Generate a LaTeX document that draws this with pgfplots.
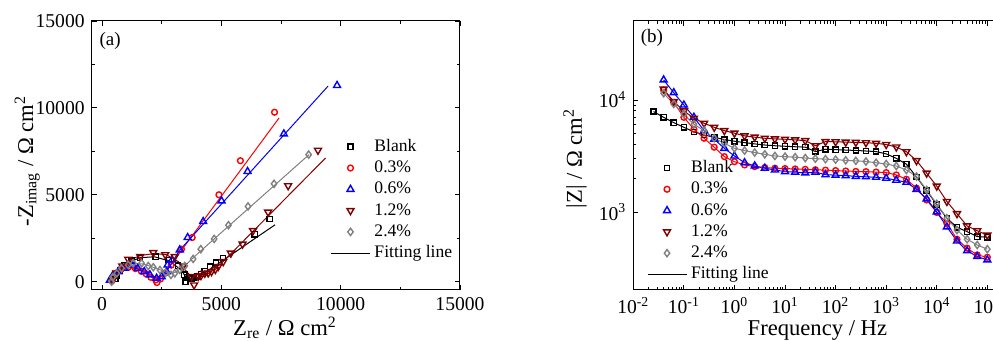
\documentclass[border=0pt]{standalone}
\usepackage{fontspec}
\setmainfont{Liberation Serif}
\usepackage{pgfplots}
\usepackage{pgfplotstable}
\pgfplotsset{compat=1.18}
\definecolor{dred}{RGB}{128,0,0}
\definecolor{mgray}{RGB}{128,128,128}

\pgfplotstableread{
f blank p3 p6 p12 p24
0.0251 7870 nan nan nan nan
0.0398 7000 12270 15100 12480 11480
0.0631 6270 9500 11610 9660 9210
0.1 5700 7000 9010 7980 7450
0.158 5180 5470 7010 6860 6070
0.251 4870 4550 5320 6190 5320
0.398 4640 3785 4460 5700 4550
0.631 4430 3120 3700 5320 4100
1 4280 2810 3160 5050 3700
1.585 4160 2630 2755 4780 3530
2.512 4050 2540 2575 4650 3390
3.981 3960 2490 2456 4550 3270
6.31 3900 2456 2371 4490 3160
10 3860 2440 2292 4460 3120
15.85 3820 2420 2270 4400 3080
25.12 3790 2400 2230 4330 3030
39.81 3460 2380 2270 3900 2990
63.1 3630 2360 2150 4250 2960
100 3600 2340 2130 4230 2930
158.5 3570 2320 2110 4200 2890
251.2 3540 2300 2080 4180 2860
398.1 3500 2290 2060 4150 2820
631 3460 2270 2040 4100 2750
1000 3300 2245 2000 4000 2680
1585 3010 2140 1920 3800 2570
2512 2670 1960 1840 3450 2370
3981 2050 1630 1590 2870 2070
6310 1550 1280 1310 2220 1570
10000 1160 990 1000 1700 1180
15849 880 790 735 1240 880
25119 730 570 550 965 690
39811 667 475 450 750 570
63096 602 413 400 680 507
100000 595 394 373 620 465
}\tabB

\pgfplotsset{
  mk/.style={only marks, mark options={line width=0.7pt, solid}},
  fit/.style={line width=0.5pt, no marks, forget plot},
  msq/.style={mark=square, mark size=1.3pt},
  mci/.style={mark=o, mark size=1.45pt},
  mtr/.style={mark=triangle, mark size=2pt},
  mtd/.style={mark=triangle, mark size=2pt, mark options={rotate=180, line width=0.7pt, solid}},
  mdi/.style={mark=diamond, mark size=1.8pt},
  base/.style={
    scale only axis, anchor=south west,
    scaled ticks=false,
    axis line style={line width=0.5pt},
    tick align=inside, major tick length=2.5pt, minor tick length=1.5pt,
    every tick/.style={black, line width=0.4pt},
    tick label style={font=\fontsize{9.8}{10}\selectfont},
    label style={font=\fontsize{11.3}{12}\selectfont},
    legend cell align=left,
    legend style={draw=none, fill=none, font=\fontsize{8.8}{9}\selectfont,
      row sep=0.15pt, nodes={text height=6.5pt, text depth=2pt, inner ysep=1pt, inner xsep=2pt}},
  },
}

\begin{document}
\begin{tikzpicture}
\path[use as bounding box] (0,0) rectangle (496.5pt,170.5pt);
\clip (0,0) rectangle (496.5pt,170.5pt);

% ---------- panel (a) ----------
\begin{axis}[base,
  at={(45.85pt,25.5pt)}, width=184.15pt, height=134.5pt,
  xmin=-430, xmax=15000, ymin=-480, ymax=15000,
  xtick={0,5000,10000,15000}, xticklabels={0,5000,10000,15000},
  ytick={0,5000,10000,15000}, yticklabels={0,5000,10000,15000},
  minor x tick num=1, minor y tick num=1,
  xlabel={Z\textsubscript{re} / Ω cm\textsuperscript{2}},
  ylabel={-Z\textsubscript{imag} / Ω cm\textsuperscript{2}},
  xlabel style={at={(axis description cs:0.525,-0.168)}, anchor=base},
  ylabel style={at={(axis description cs:-0.175,0.48)}, anchor=center},
  legend style={at={(axis description cs:0.631,0.588)}, anchor=north west},
  legend image code/.code={\draw[mark repeat=2,mark phase=2,#1] plot coordinates {(0pt,0pt)(9.75pt,0pt)(19.5pt,0pt)};},
]
% fits
\addplot[fit, black] coordinates {(450,0) (700,600) (1100,1100) (1600,1380) (2200,1430) (2800,1200) (3300,700) (3550,200) (3700,100) (4000,250) (4400,600) (5000,1150) (6000,2100) (7250,3270)};
\addplot[fit, red] coordinates {(400,0) (550,400) (800,680) (1100,800) (1450,730) (1800,500) (2100,250) (2350,150) (2600,450) (2900,1000) (3300,1750) (7420,9420)};
\addplot[fit, blue] coordinates {(330,0) (500,400) (800,680) (1200,850) (1550,720) (1900,480) (2250,250) (2500,300) (2800,800) (3250,1800) (9470,11250)};
\addplot[fit, mgray] coordinates {(400,0) (600,500) (900,850) (1300,1030) (1700,1030) (2100,850) (2500,650) (2850,450) (3100,550) (3500,950) (4000,1600) (8675,7310)};
\addplot[fit, dred] coordinates {(450,0) (700,700) (1100,1200) (1600,1500) (2200,1620) (2700,1550) (3200,1150) (3600,500) (3850,150) (4100,250) (4500,500) (5000,1050) (9370,7120)};
% data
\addplot[mk, black, msq] coordinates {(560,150) (620,350) (750,650) (950,950) (1250,1200) (1600,1350) (2250,1440) (2800,1250) (3190,920) (3450,400) (3500,0) (3560,250) (3650,200) (3750,150) (3850,200) (4000,300) (4150,450) (4300,600) (4520,860) (4770,1100) (5070,1350) (6400,2730) (7030,3600)};
\addlegendentry{Blank}
\addplot[mk, red, mci] coordinates {(420,50) (480,250) (600,500) (800,700) (1100,820) (1400,750) (1650,600) (1850,450) (2050,250) (2250,100) (2300,-50) (2450,150) (2650,500) (2900,950) (3330,1870) (3780,2540) (4900,5000) (5800,6960) (7230,9750)};
\addlegendentry{0.3\%}
\addplot[mk, blue, mtr] coordinates {(330,80) (450,350) (680,580) (950,780) (1270,960) (1500,770) (1770,580) (2010,390) (2290,200) (2500,290) (2710,580) (2750,960) (2940,1250) (3260,1830) (3590,2540) (4240,3460) (5010,4650) (6100,6340) (7620,8500) (9850,11290)};
\addlegendentry{0.6\%}
\addplot[mk, dred, mtd] coordinates {(450,100) (600,500) (850,900) (1100,1290) (1600,1450) (2150,1670) (2650,1550) (3050,1440) (3400,900) (3750,290) (3860,-190) (4030,290) (4150,350) (4310,480) (4450,500) (4590,580) (4750,700) (4870,870) (5080,1150) (5400,1640) (5890,2160) (6330,2940) (6960,4000) (7800,5520) (9050,7560)};
\addlegendentry{1.2\%}
\addplot[mk, mgray, mdi] coordinates {(400,0) (450,250) (620,480) (820,770) (1100,960) (1310,1060) (1660,1060) (1940,900) (2150,830) (2430,670) (2670,520) (2890,390) (3050,480) (3260,680) (3470,900) (3820,1310) (4140,1870) (4700,2460) (5300,3250) (6120,4330) (7210,5630) (8660,7310)};
\addlegendentry{2.4\%}
\addlegendimage{black, line width=0.5pt, no marks}
\addlegendentry{Fitting line}
\node[font=\fontsize{9.5}{10}\selectfont] at (axis description cs:0.05,0.926) {(a)};
\end{axis}

% ---------- panel (b) ----------
\begin{axis}[base,
  at={(316.65pt,25.5pt)}, width=183.35pt, height=134.5pt,
  xmode=log, ymode=log,
  xmin=0.01, xmax=178000, ymin=201, ymax=50700,
  xtick={0.01,0.1,1,10,100,1000,10000,100000},
  xticklabels={10\textsuperscript{-2},10\textsuperscript{-1},10\textsuperscript{0},10\textsuperscript{1},10\textsuperscript{2},10\textsuperscript{3},10\textsuperscript{4},10\textsuperscript{5}},
  ytick={1000,10000},
  yticklabels={10\textsuperscript{3},10\textsuperscript{4}},
  xlabel={Frequency / Hz},
  ylabel={|Z| / Ω cm\textsuperscript{2}},
  xlabel style={at={(axis description cs:0.502,-0.171)}, anchor=base},
  ylabel style={at={(axis description cs:-0.159,0.489)}, anchor=center},
  legend style={at={(axis description cs:0.020,0.509)}, anchor=north west},
  legend image code/.code={\draw[mark repeat=2,mark phase=2,#1] plot coordinates {(0pt,0pt)(9.75pt,0pt)(19.5pt,0pt)};},
]
\addplot[fit, black] table[x=f, y=blank] {\tabB};
\addplot[fit, red] table[x=f, y=p3] {\tabB};
\addplot[fit, blue] table[x=f, y=p6] {\tabB};
\addplot[fit, dred] table[x=f, y=p12] {\tabB};
\addplot[fit, mgray] table[x=f, y=p24] {\tabB};
\addplot[mk, black, msq] table[x=f, y=blank] {\tabB};
\addlegendentry{Blank}
\addplot[mk, red, mci] table[x=f, y=p3] {\tabB};
\addlegendentry{0.3\%}
\addplot[mk, blue, mtr] table[x=f, y=p6] {\tabB};
\addlegendentry{0.6\%}
\addplot[mk, dred, mtd] table[x=f, y=p12] {\tabB};
\addlegendentry{1.2\%}
\addplot[mk, mgray, mdi] table[x=f, y=p24] {\tabB};
\addlegendentry{2.4\%}
\addlegendimage{black, line width=0.5pt, no marks}
\addlegendentry{Fitting line}
\node[font=\fontsize{9.5}{10}\selectfont] at (axis description cs:0.051,0.937) {(b)};
\end{axis}
\end{tikzpicture}
\end{document}
